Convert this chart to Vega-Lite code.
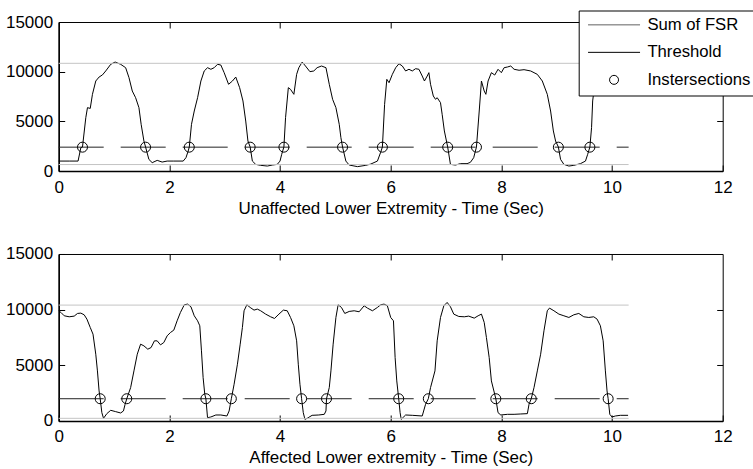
{
  "$schema": "https://vega.github.io/schema/vega-lite/v6.json",
  "padding": {"left": 4.7, "top": 9, "right": 0, "bottom": 0},
  "spacing": 27,
  "config": {
    "font": "Liberation Sans",
    "view": {"stroke": "black", "strokeWidth": 1},
    "axis": {"grid": false, "domainColor": "black", "tickColor": "black", "labelColor": "black", "titleColor": "black", "labelFont": "Liberation Sans", "titleFont": "Liberation Sans", "labelFontSize": 17, "titleFontSize": 17, "titleFontWeight": "normal"}
  },
  "resolve": {"scale": {"stroke": "independent", "shape": "independent"}},
  "datasets": {
    "topSig": [
      {"t":0,"v":1000},{"t":0.2,"v":1000},{"t":0.35,"v":1000},{"t":0.40,"v":2350},{"t":0.43,"v":2420},{"t":0.49,"v":5370},{"t":0.52,"v":6380},{"t":0.57,"v":6300},{"t":0.61,"v":7720},{"t":0.67,"v":9060},{"t":0.73,"v":9460},{"t":0.79,"v":9670},{"t":0.85,"v":10070},{"t":0.94,"v":10740},{"t":1.02,"v":10970},{"t":1.12,"v":10740},{"t":1.21,"v":10400},{"t":1.27,"v":9400},{"t":1.33,"v":8050},{"t":1.39,"v":7380},{"t":1.45,"v":6380},{"t":1.49,"v":4700},{"t":1.54,"v":3020},{"t":1.57,"v":2420},{"t":1.63,"v":1170},{"t":1.69,"v":840},{"t":1.78,"v":1070},{"t":1.87,"v":900},{"t":1.96,"v":1000},{"t":2.08,"v":1000},{"t":2.25,"v":1000},{"t":2.30,"v":1340},{"t":2.34,"v":2010},{"t":2.36,"v":2420},{"t":2.40,"v":4700},{"t":2.45,"v":6040},{"t":2.51,"v":7380},{"t":2.57,"v":9060},{"t":2.63,"v":10070},{"t":2.69,"v":10400},{"t":2.75,"v":10240},{"t":2.81,"v":10400},{"t":2.87,"v":10740},{"t":2.93,"v":10670},{"t":2.99,"v":9900},{"t":3.07,"v":8730},{"t":3.14,"v":9060},{"t":3.20,"v":9460},{"t":3.27,"v":8390},{"t":3.33,"v":7050},{"t":3.38,"v":5030},{"t":3.42,"v":3020},{"t":3.46,"v":2420},{"t":3.50,"v":1000},{"t":3.56,"v":670},{"t":3.65,"v":570},{"t":3.77,"v":500},{"t":3.86,"v":600},{"t":3.95,"v":670},{"t":4.00,"v":1000},{"t":4.03,"v":1680},{"t":4.07,"v":2420},{"t":4.10,"v":5370},{"t":4.15,"v":8390},{"t":4.19,"v":8220},{"t":4.25,"v":7720},{"t":4.30,"v":9730},{"t":4.34,"v":10400},{"t":4.40,"v":10970},{"t":4.46,"v":10570},{"t":4.54,"v":10000},{"t":4.61,"v":10070},{"t":4.67,"v":10400},{"t":4.75,"v":10570},{"t":4.83,"v":10400},{"t":4.89,"v":8730},{"t":4.95,"v":7220},{"t":5.01,"v":6380},{"t":5.07,"v":4700},{"t":5.10,"v":3360},{"t":5.13,"v":2420},{"t":5.19,"v":1000},{"t":5.25,"v":600},{"t":5.40,"v":440},{"t":5.55,"v":570},{"t":5.64,"v":700},{"t":5.76,"v":1000},{"t":5.82,"v":1900},{"t":5.85,"v":2420},{"t":5.89,"v":6710},{"t":5.93,"v":9230},{"t":5.97,"v":8890},{"t":6.03,"v":9730},{"t":6.09,"v":10400},{"t":6.15,"v":10800},{"t":6.21,"v":10570},{"t":6.27,"v":10070},{"t":6.33,"v":10240},{"t":6.39,"v":10070},{"t":6.45,"v":10300},{"t":6.51,"v":10240},{"t":6.57,"v":9560},{"t":6.61,"v":9060},{"t":6.66,"v":9560},{"t":6.69,"v":9900},{"t":6.72,"v":8730},{"t":6.77,"v":7550},{"t":6.81,"v":7220},{"t":6.84,"v":7380},{"t":6.90,"v":6880},{"t":6.93,"v":5710},{"t":6.97,"v":4030},{"t":7.03,"v":2420},{"t":7.08,"v":670},{"t":7.17,"v":600},{"t":7.26,"v":740},{"t":7.38,"v":740},{"t":7.44,"v":870},{"t":7.50,"v":1340},{"t":7.55,"v":2420},{"t":7.60,"v":6040},{"t":7.64,"v":9060},{"t":7.69,"v":8050},{"t":7.72,"v":7720},{"t":7.76,"v":9060},{"t":7.82,"v":9900},{"t":7.88,"v":9660},{"t":7.94,"v":10240},{"t":8.00,"v":9900},{"t":8.05,"v":10400},{"t":8.11,"v":10470},{"t":8.17,"v":10570},{"t":8.23,"v":10240},{"t":8.32,"v":10140},{"t":8.41,"v":10200},{"t":8.53,"v":10070},{"t":8.65,"v":9730},{"t":8.74,"v":9060},{"t":8.83,"v":7720},{"t":8.89,"v":6040},{"t":8.94,"v":4030},{"t":8.98,"v":3020},{"t":9.03,"v":2420},{"t":9.07,"v":1170},{"t":9.13,"v":670},{"t":9.22,"v":500},{"t":9.31,"v":570},{"t":9.43,"v":740},{"t":9.52,"v":1000},{"t":9.56,"v":1680},{"t":9.60,"v":2420},{"t":9.63,"v":4360},{"t":9.65,"v":7050},{"t":9.68,"v":8400},{"t":9.72,"v":9500},{"t":9.80,"v":10200},{"t":9.95,"v":10500},{"t":10.10,"v":10400},{"t":10.30,"v":10500}
    ],
    "botSig": [
      {"t":0,"v":9900},{"t":0.04,"v":9750},{"t":0.10,"v":9450},{"t":0.19,"v":9360},{"t":0.28,"v":9420},{"t":0.34,"v":9660},{"t":0.40,"v":9690},{"t":0.46,"v":9540},{"t":0.51,"v":9150},{"t":0.57,"v":8400},{"t":0.62,"v":7800},{"t":0.67,"v":6000},{"t":0.70,"v":4500},{"t":0.73,"v":2700},{"t":0.75,"v":2000},{"t":0.78,"v":750},{"t":0.81,"v":240},{"t":0.87,"v":660},{"t":0.94,"v":960},{"t":1.03,"v":840},{"t":1.12,"v":720},{"t":1.17,"v":900},{"t":1.20,"v":1500},{"t":1.23,"v":2000},{"t":1.30,"v":3000},{"t":1.36,"v":4500},{"t":1.42,"v":6000},{"t":1.48,"v":6900},{"t":1.54,"v":6750},{"t":1.61,"v":6450},{"t":1.67,"v":6600},{"t":1.73,"v":7200},{"t":1.78,"v":7200},{"t":1.84,"v":6840},{"t":1.90,"v":7050},{"t":1.96,"v":7650},{"t":2.02,"v":7950},{"t":2.08,"v":8160},{"t":2.14,"v":9000},{"t":2.20,"v":9750},{"t":2.27,"v":10440},{"t":2.33,"v":10500},{"t":2.39,"v":10260},{"t":2.45,"v":9450},{"t":2.51,"v":9000},{"t":2.55,"v":8550},{"t":2.58,"v":6300},{"t":2.61,"v":3900},{"t":2.64,"v":2400},{"t":2.66,"v":2000},{"t":2.69,"v":300},{"t":2.75,"v":360},{"t":2.84,"v":540},{"t":2.93,"v":540},{"t":3.04,"v":450},{"t":3.08,"v":900},{"t":3.12,"v":2000},{"t":3.17,"v":3300},{"t":3.23,"v":5100},{"t":3.28,"v":6900},{"t":3.32,"v":8400},{"t":3.35,"v":9900},{"t":3.40,"v":10440},{"t":3.46,"v":10200},{"t":3.53,"v":9960},{"t":3.59,"v":10050},{"t":3.65,"v":9900},{"t":3.74,"v":9600},{"t":3.83,"v":9360},{"t":3.90,"v":9210},{"t":3.98,"v":9600},{"t":4.06,"v":9960},{"t":4.13,"v":9900},{"t":4.19,"v":9300},{"t":4.25,"v":8550},{"t":4.30,"v":7200},{"t":4.33,"v":5100},{"t":4.36,"v":3300},{"t":4.39,"v":2000},{"t":4.42,"v":750},{"t":4.45,"v":150},{"t":4.49,"v":240},{"t":4.58,"v":510},{"t":4.70,"v":540},{"t":4.80,"v":600},{"t":4.83,"v":900},{"t":4.84,"v":2000},{"t":4.89,"v":3000},{"t":4.92,"v":4500},{"t":4.96,"v":6900},{"t":5.01,"v":9300},{"t":5.05,"v":10440},{"t":5.11,"v":10200},{"t":5.17,"v":9660},{"t":5.25,"v":9840},{"t":5.34,"v":9900},{"t":5.43,"v":9810},{"t":5.52,"v":10350},{"t":5.58,"v":10140},{"t":5.67,"v":9900},{"t":5.76,"v":10200},{"t":5.82,"v":10440},{"t":5.88,"v":10500},{"t":5.94,"v":10350},{"t":6.00,"v":9300},{"t":6.05,"v":9000},{"t":6.08,"v":5700},{"t":6.11,"v":3600},{"t":6.145,"v":2000},{"t":6.17,"v":750},{"t":6.19,"v":150},{"t":6.27,"v":540},{"t":6.39,"v":510},{"t":6.57,"v":450},{"t":6.63,"v":1500},{"t":6.68,"v":2000},{"t":6.72,"v":3000},{"t":6.80,"v":4500},{"t":6.84,"v":7200},{"t":6.90,"v":9300},{"t":6.96,"v":10350},{"t":7.02,"v":10650},{"t":7.08,"v":10260},{"t":7.14,"v":9600},{"t":7.23,"v":9390},{"t":7.33,"v":9360},{"t":7.41,"v":9420},{"t":7.51,"v":9240},{"t":7.58,"v":9450},{"t":7.64,"v":9600},{"t":7.69,"v":8850},{"t":7.73,"v":7500},{"t":7.78,"v":5700},{"t":7.82,"v":3600},{"t":7.90,"v":2000},{"t":7.94,"v":750},{"t":7.99,"v":540},{"t":8.11,"v":600},{"t":8.23,"v":600},{"t":8.35,"v":630},{"t":8.47,"v":660},{"t":8.50,"v":1500},{"t":8.54,"v":2000},{"t":8.59,"v":3000},{"t":8.65,"v":4500},{"t":8.71,"v":6000},{"t":8.77,"v":8100},{"t":8.83,"v":9900},{"t":8.87,"v":10140},{"t":8.95,"v":9900},{"t":9.04,"v":9600},{"t":9.13,"v":9450},{"t":9.22,"v":9300},{"t":9.31,"v":9540},{"t":9.40,"v":9660},{"t":9.49,"v":9360},{"t":9.58,"v":9300},{"t":9.67,"v":9360},{"t":9.73,"v":9150},{"t":9.79,"v":8550},{"t":9.84,"v":7200},{"t":9.88,"v":4500},{"t":9.91,"v":2700},{"t":9.93,"v":2000},{"t":9.96,"v":600},{"t":10.00,"v":360},{"t":10.06,"v":450},{"t":10.15,"v":510},{"t":10.29,"v":510}
    ],
    "topX": [{"t":0.43,"v":2400},{"t":1.57,"v":2400},{"t":2.36,"v":2400},{"t":3.46,"v":2400},{"t":4.07,"v":2400},{"t":5.13,"v":2400},{"t":5.85,"v":2400},{"t":7.03,"v":2400},{"t":7.55,"v":2400},{"t":9.03,"v":2400},{"t":9.60,"v":2400}],
    "botX": [{"t":0.75,"v":2000},{"t":1.23,"v":2000},{"t":2.66,"v":2000},{"t":3.12,"v":2000},{"t":4.39,"v":2000},{"t":4.84,"v":2000},{"t":6.145,"v":2000},{"t":6.68,"v":2000},{"t":7.90,"v":2000},{"t":8.54,"v":2000},{"t":9.93,"v":2000}],
    "topThr": [{"t0":0,"t1":10.3,"v":2400}],
    "botThr": [{"t0":0,"t1":10.3,"v":2000}],
    "topGray": [{"t0":0,"t1":10.3,"v":10840},{"t0":0,"t1":10.3,"v":650}],
    "botGray": [{"t0":0,"t1":10.3,"v":10410},{"t0":0,"t1":10.3,"v":240}],
    "legendRows": [{"s":"Sum of FSR"},{"s":"Threshold"},{"s":"Instersections"}]
  },
  "vconcat": [
    {
      "width": 664, "height": 149,
      "resolve": {"scale": {"x": "independent", "y": "independent"}, "axis": {"x": "independent", "y": "independent"}},
      "layer": [
        {
          "layer": [
            {
              "data": {"name": "topThr"},
              "mark": {"type": "rule", "color": "#222222", "strokeWidth": 1, "strokeDash": [45, 17]},
              "encoding": {
                "x": {"field": "t0", "type": "quantitative", "title": "Unaffected Lower Extremity - Time (Sec)", "scale": {"domain": [0, 12], "nice": false}},
                "x2": {"field": "t1"},
                "y": {"field": "v", "type": "quantitative", "title": null, "scale": {"domain": [0, 15000], "nice": false}}
              }
            },
            {
              "data": {"name": "topSig"},
              "mark": {"type": "line", "color": "black", "strokeWidth": 1},
              "encoding": {
                "x": {"field": "t", "type": "quantitative", "title": "Unaffected Lower Extremity - Time (Sec)", "scale": {"domain": [0, 12], "nice": false},
                  "axis": {"values": [0, 2, 4, 6, 8, 10, 12], "format": "d", "tickSize": -6, "labelPadding": 14, "titlePadding": 5, "domainWidth": 1.5, "labelFlush": false}},
                "y": {"field": "v", "type": "quantitative", "title": null, "scale": {"domain": [0, 15000], "nice": false},
                  "axis": {"values": [0, 5000, 10000, 15000], "format": "d", "tickSize": -6, "labelPadding": 12, "domainWidth": 1.5}}
              }
            },
            {
              "data": {"name": "topX"},
              "mark": {"type": "point", "shape": "circle", "filled": false, "size": 100, "stroke": "black", "strokeWidth": 1, "opacity": 1},
              "encoding": {
                "x": {"field": "t", "type": "quantitative", "title": "Unaffected Lower Extremity - Time (Sec)"},
                "y": {"field": "v", "type": "quantitative", "title": null}
              }
            },
            {
              "data": {"name": "legendRows"},
              "transform": [{"filter": "false"}],
              "mark": {"type": "point", "filled": false, "strokeWidth": 1, "opacity": 1},
              "encoding": {
                "shape": {"field": "s", "type": "nominal",
                  "scale": {"domain": ["Sum of FSR", "Threshold", "Instersections"], "range": ["M-1,0H9.4", "M-1,0H9.4", "M5.1,0A0.9,0.9,0,1,1,3.3,0A0.9,0.9,0,1,1,5.1,0"]},
                  "legend": {"title": null, "orient": "none", "legendX": 520, "legendY": -11.5, "fillColor": "white", "strokeColor": "black", "padding": 6, "labelFontSize": 16.7, "labelFont": "Liberation Sans", "labelColor": "black", "symbolSize": 100, "symbolStrokeWidth": 1, "symbolOpacity": 1, "labelOffset": 46, "rowPadding": 9.5}},
                "stroke": {"field": "s", "type": "nominal",
                  "scale": {"domain": ["Sum of FSR", "Threshold", "Instersections"], "range": ["#606060", "black", "black"]},
                  "legend": {"title": null, "orient": "none", "legendX": 520, "legendY": -11.5, "fillColor": "white", "strokeColor": "black", "padding": 6, "labelFontSize": 16.7, "labelFont": "Liberation Sans", "labelColor": "black", "symbolSize": 100, "symbolStrokeWidth": 1, "symbolOpacity": 1, "labelOffset": 46, "rowPadding": 9.5}}
              }
            }
          ]
        },
        {
          "data": {"name": "topGray"},
          "mark": {"type": "rule", "color": "#c4c4c4", "strokeWidth": 1},
          "encoding": {
            "x": {"field": "t0", "type": "quantitative", "scale": {"domain": [0, 12], "nice": false},
              "axis": {"orient": "top", "values": [2, 4, 6, 8, 10], "labels": false, "domain": false, "tickSize": -6, "title": null}},
            "x2": {"field": "t1"},
            "y": {"field": "v", "type": "quantitative", "scale": {"domain": [0, 15000], "nice": false},
              "axis": {"orient": "right", "values": [5000, 10000], "labels": false, "domain": false, "tickSize": -6, "title": null}}
          }
        }
      ]
    },
    {
      "width": 664, "height": 167,
      "resolve": {"scale": {"x": "independent", "y": "independent"}, "axis": {"x": "independent", "y": "independent"}},
      "layer": [
        {
          "layer": [
            {
              "data": {"name": "botThr"},
              "mark": {"type": "rule", "color": "#222222", "strokeWidth": 1, "strokeDash": [45, 17]},
              "encoding": {
                "x": {"field": "t0", "type": "quantitative", "title": "Affected Lower extremity - Time (Sec)", "scale": {"domain": [0, 12], "nice": false}},
                "x2": {"field": "t1"},
                "y": {"field": "v", "type": "quantitative", "title": null, "scale": {"domain": [0, 15000], "nice": false}}
              }
            },
            {
              "data": {"name": "botSig"},
              "mark": {"type": "line", "color": "black", "strokeWidth": 1},
              "encoding": {
                "x": {"field": "t", "type": "quantitative", "title": "Affected Lower extremity - Time (Sec)", "scale": {"domain": [0, 12], "nice": false},
                  "axis": {"values": [0, 2, 4, 6, 8, 10, 12], "format": "d", "tickSize": -6, "labelPadding": 14, "titlePadding": 5, "domainWidth": 1.5, "labelFlush": false}},
                "y": {"field": "v", "type": "quantitative", "title": null, "scale": {"domain": [0, 15000], "nice": false},
                  "axis": {"values": [0, 5000, 10000, 15000], "format": "d", "tickSize": -6, "labelPadding": 12, "domainWidth": 1.5}}
              }
            },
            {
              "data": {"name": "botX"},
              "mark": {"type": "point", "shape": "circle", "filled": false, "size": 100, "stroke": "black", "strokeWidth": 1, "opacity": 1},
              "encoding": {
                "x": {"field": "t", "type": "quantitative", "title": "Affected Lower extremity - Time (Sec)"},
                "y": {"field": "v", "type": "quantitative", "title": null}
              }
            }
          ]
        },
        {
          "data": {"name": "botGray"},
          "mark": {"type": "rule", "color": "#c4c4c4", "strokeWidth": 1},
          "encoding": {
            "x": {"field": "t0", "type": "quantitative", "scale": {"domain": [0, 12], "nice": false},
              "axis": {"orient": "top", "values": [2, 4, 6, 8, 10], "labels": false, "domain": false, "tickSize": -6, "title": null}},
            "x2": {"field": "t1"},
            "y": {"field": "v", "type": "quantitative", "scale": {"domain": [0, 15000], "nice": false},
              "axis": {"orient": "right", "values": [5000, 10000], "labels": false, "domain": false, "tickSize": -6, "title": null}}
          }
        }
      ]
    }
  ]
}
